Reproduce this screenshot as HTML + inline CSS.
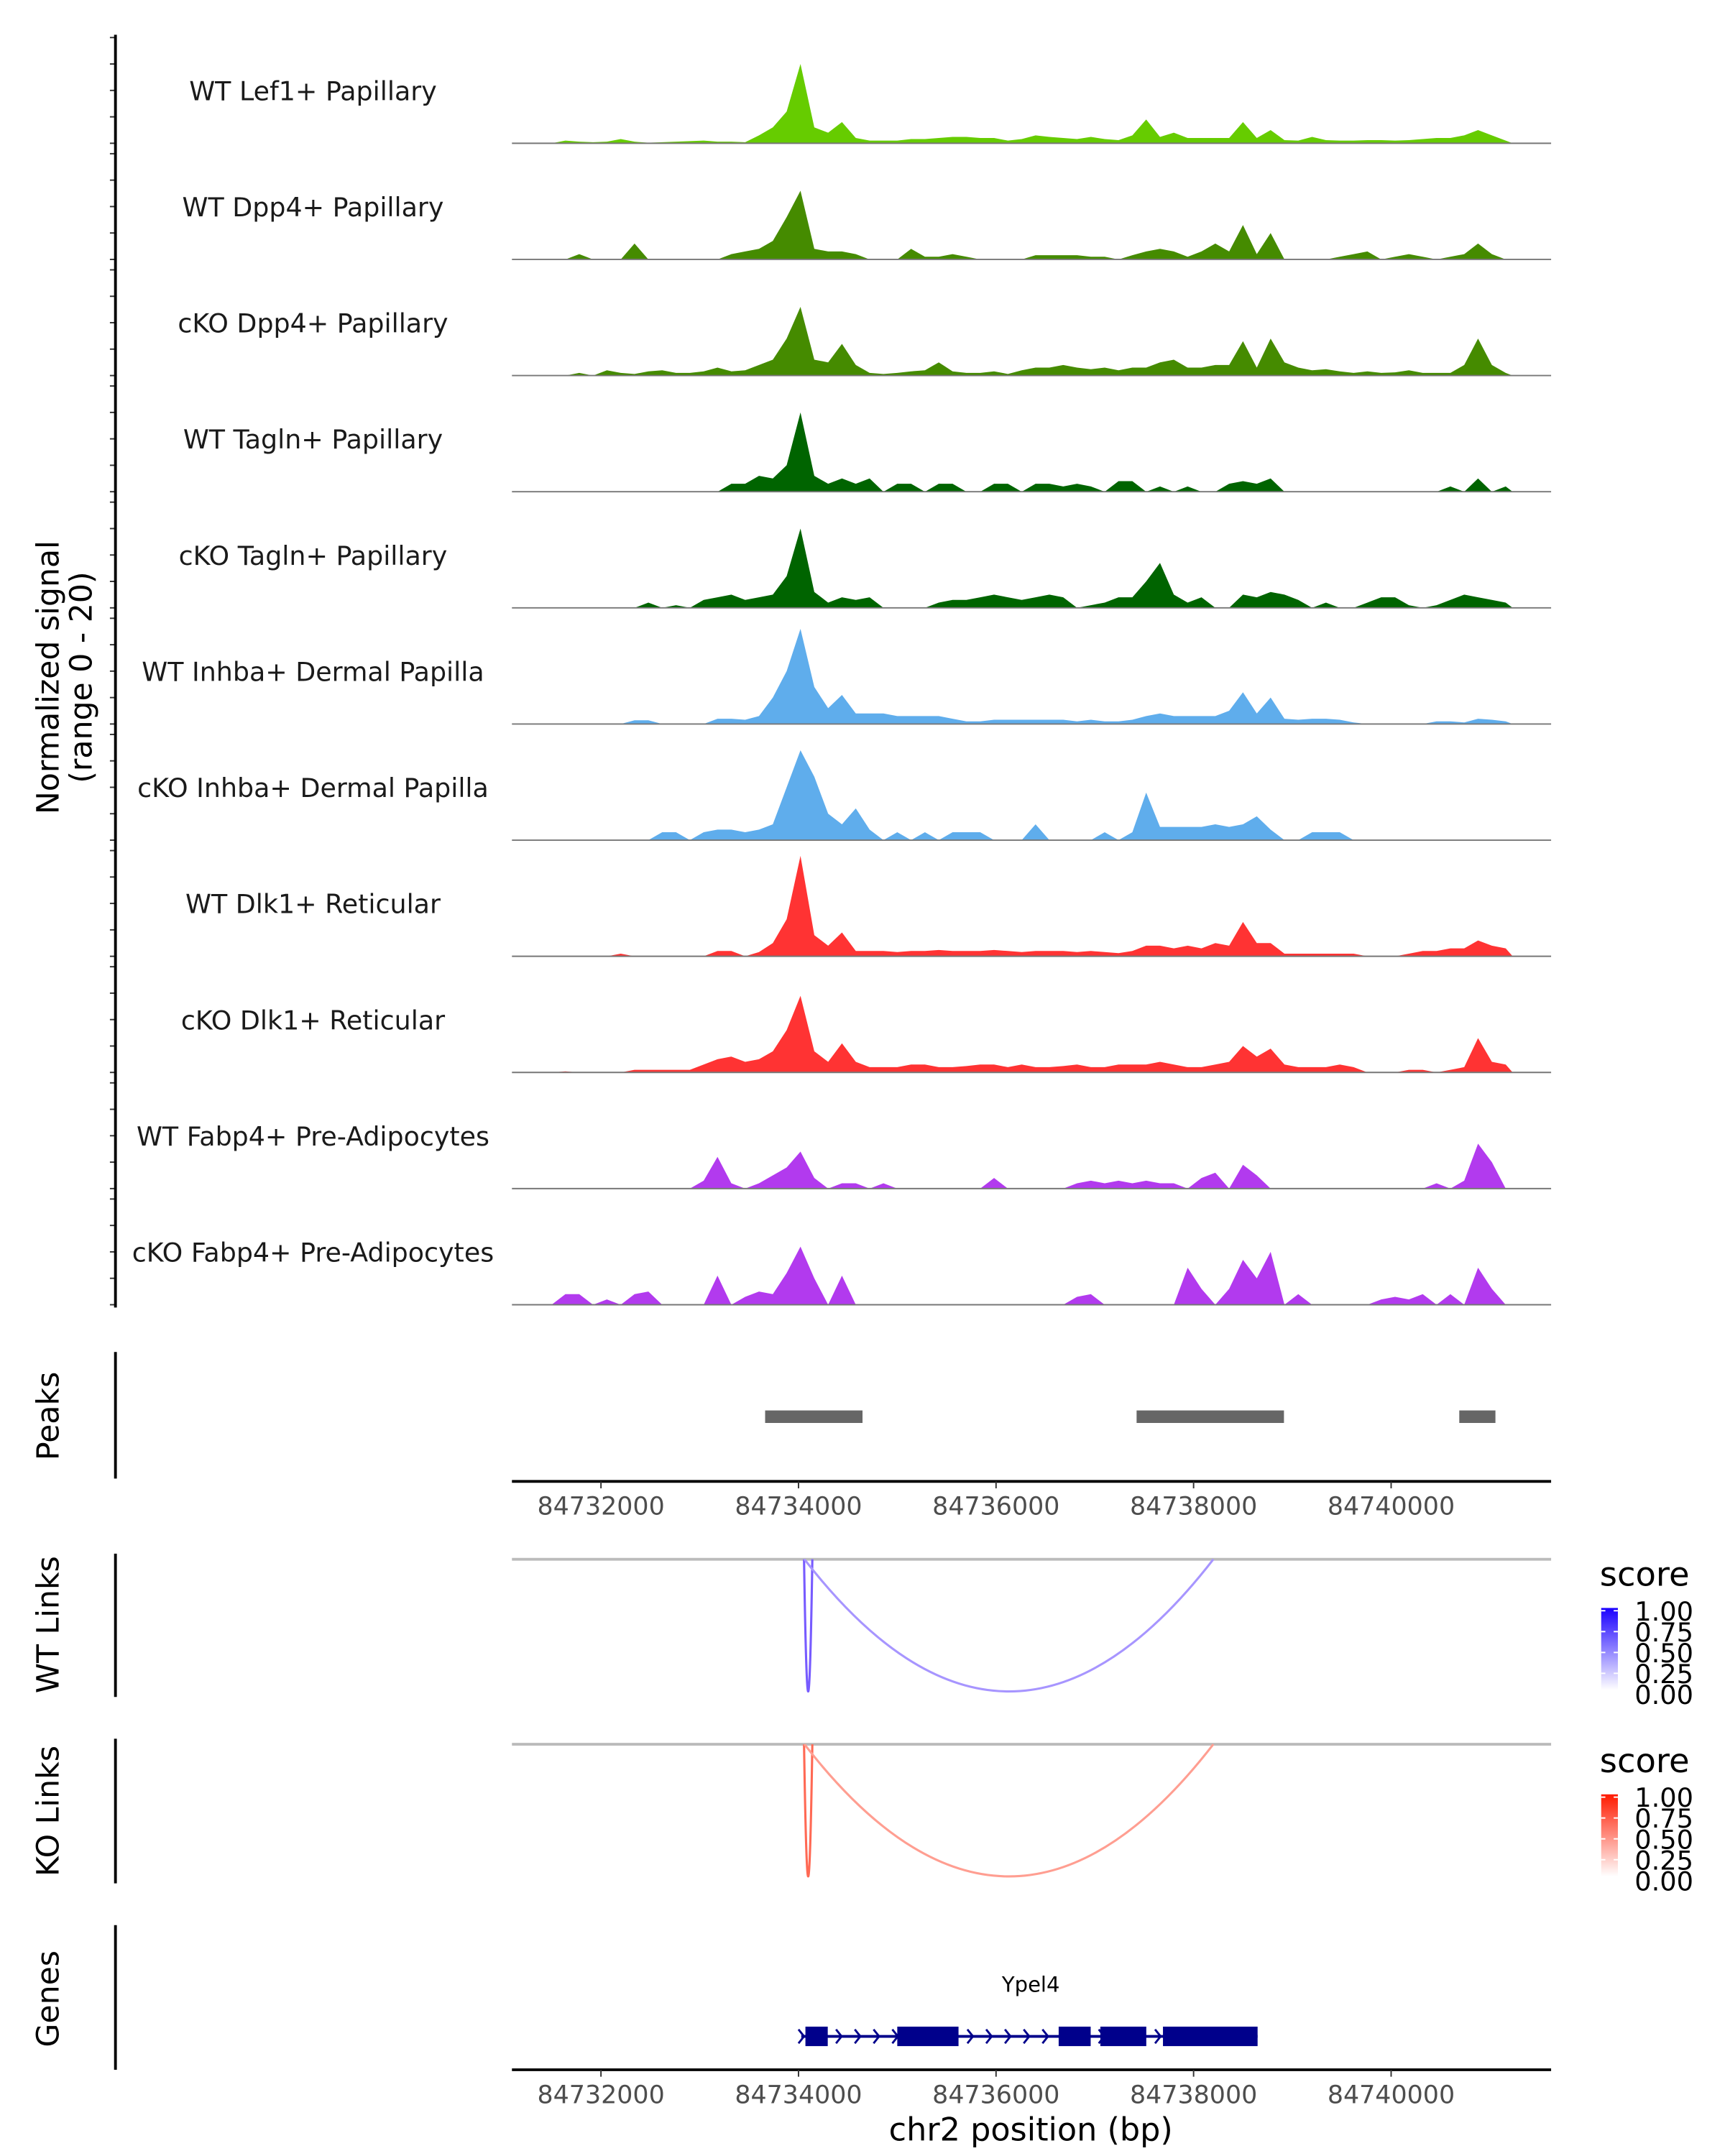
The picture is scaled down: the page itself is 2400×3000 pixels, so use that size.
<!DOCTYPE html>
<html><head><meta charset="utf-8"><style>
html,body{margin:0;padding:0;background:#fff;}
svg{display:block;}
text{font-family:"DejaVu Sans","Liberation Sans",sans-serif;}
</style></head><body>
<svg id="chart" xmlns="http://www.w3.org/2000/svg" width="2400" height="3000" viewBox="0 0 1240 1550">
<rect width="1240" height="1550" fill="#fff"/>
<g id="tracks"></g>
<g id="peaks"></g>
<g id="links"></g>
<g id="genes"></g>
<g id="axes"></g>
</svg>
<script>
const trackNames = ["WT Lef1+ Papillary","WT Dpp4+ Papillary","cKO Dpp4+ Papillary","WT Tagln+ Papillary","cKO Tagln+ Papillary","WT Inhba+ Dermal Papilla","cKO Inhba+ Dermal Papilla","WT Dlk1+ Reticular","cKO Dlk1+ Reticular","WT Fabp4+ Pre-Adipocytes","cKO Fabp4+ Pre-Adipocytes"];
const trackColors = ["#66cc00","#458b00","#458b00","#006400","#006400","#5fadec","#5fadec","#ff3333","#ff3333","#b23aee","#b23aee"];
const binStart = 84731500;
const binSize = 140;
const sigLef1WT = [0,0.5,0.3,0.2,0.3,0.8,0.3,0.1,0.2,0.3,0.4,0.5,0.3,0.3,0.2,1.5,3,6,15,3,2,4,1,0.5,0.5,0.5,0.8,0.8,1,1.2,1.2,1,1,0.5,0.8,1.5,1.2,1,0.8,1.2,0.8,0.6,1.5,4.5,1.2,2,1,1,1,1,4,1,2.5,0.6,0.5,1.2,0.6,0.5,0.5,0.6,0.6,0.5,0.6,0.8,1,1,1.5,2.5,1.5,0.5];
const sigDpp4WT = [0,0,1,0,0,0,3,0,0,0,0,0,0,1,1.5,2,3.5,8,13,2,1.5,1.5,1,0,0,0,2,0.5,0.5,1,0.5,0,0,0,0,0.8,0.8,0.8,0.8,0.5,0.5,0,0.8,1.5,2,1.5,0.5,1.5,3,1.5,6.5,1,5,0,0,0,0,0.5,1,1.5,0,0.5,1,0.5,0,0.5,1,3,1,0];
const sigDpp4KO = [0,0,0.5,0,1,0.5,0.3,0.8,1,0.5,0.5,0.8,1.5,0.8,1,2,3,7,13,3,2.5,6,2,0.5,0.3,0.5,0.8,1,2.5,0.8,0.5,0.5,0.8,0.3,1,1.5,1.5,2,1.5,1.2,1.5,1,1.5,1.5,2.5,3,1.5,1.5,2,2,6.5,1.5,7,2.5,1.5,1,1.2,0.8,0.5,0.8,0.5,0.6,1,0.5,0.5,0.5,2,7,2,0.5];
const sigTaglnWT = [0,0,0,0,0,0,0,0,0,0,0,0,0,1.5,1.5,3,2.5,5,15,3,1.5,2.5,1.5,2.5,0,1.5,1.5,0,1.5,1.5,0,0,1.5,1.5,0,1.5,1.5,1,1.5,1,0,2,2,0,1,0,1,0,0,1.5,2,1.5,2.5,0,0,0,0,0,0,0,0,0,0,0,0,1,0,2.5,0,1];
const sigTaglnKO = [0,0,0,0,0,0,0,1,0,0.5,0,1.5,2,2.5,1.5,2,2.5,6,15,3,1,2,1.5,2,0,0,0,0,1,1.5,1.5,2,2.5,2,1.5,2,2.5,2,0,0.5,1,2,2,5,8.5,2.5,1,2,0,0,2.5,2,3,2.5,1.5,0,1,0,0,1,2,2,0.5,0,0.5,1.5,2.5,2,1.5,1];
const sigInhbaWT = [0,0,0,0,0,0,0.7,0.7,0,0,0,0,1,1,0.8,1.5,5,10,18,7,3,5.5,2,2,2,1.5,1.5,1.5,1.5,1,0.5,0.5,0.8,0.8,0.8,0.8,0.8,0.8,0.5,0.8,0.5,0.5,0.8,1.5,2,1.5,1.5,1.5,1.5,2.5,6,2,5,1,0.8,1,1,0.8,0.3,0,0,0,0,0,0.5,0.5,0.3,1,0.8,0.5];
const sigInhbaKO = [0,0,0,0,0,0,0,0,1.5,1.5,0,1.5,2,2,1.5,2,3,10,17,12,5,3,6,2,0,1.5,0,1.5,0,1.5,1.5,1.5,0,0,0,3,0,0,0,0,1.5,0,1.5,9,2.5,2.5,2.5,2.5,3,2.5,3,4.5,2,0,0,1.5,1.5,1.5,0,0,0,0,0,0,0,0,0,0,0,0];
const sigDlk1WT = [0,0,0,0,0,0.5,0,0,0,0,0,0,1,1,0,0.8,2.5,7,19,4,2,4.5,1,1,1,0.8,1,1,1.2,1,1,1,1.2,1,0.8,1,1,1,0.8,1,0.8,0.6,1,2,2,1.5,2,1.5,2.5,2,6.5,2.5,2.5,0.5,0.5,0.5,0.5,0.5,0.5,0,0,0,0.5,1,1,1.5,1.5,3,2,1.5];
const sigDlk1KO = [0,0.2,0,0,0,0,0.5,0.5,0.5,0.5,0.5,1.5,2.5,3,2,2.5,4,8,14.5,4,2,5.5,2,1,1,1,1.5,1.5,1,1,1.2,1.5,1.5,1,1.5,1,1,1.2,1.5,1,1,1.5,1.5,1.5,2,1.5,1,1,1.5,2,5,3,4.5,1.5,1,1,1,1.5,1,0,0,0,0.5,0.5,0,0.5,1,6.5,2,1.5];
const sigFabp4WT = [0,0,0,0,0,0,0,0,0,0,0,1.5,6,1,0,1,2.5,4,7,2,0,1,1,0,1,0,0,0,0,0,0,0,2,0,0,0,0,0,1,1.5,1,1.5,1,1.5,1,1,0,2,3,0,4.5,2.5,0,0,0,0,0,0,0,0,0,0,0,0,1,0,1.5,8.5,5,0];
const sigFabp4KO = [0,2,2,0,1,0,2,2.5,0,0,0,0,5.5,0,1.5,2.5,2,6,11,5,0,5.5,0,0,0,0,0,0,0,0,0,0,0,0,0,0,0,0,1.5,2,0,0,0,0,0,0,7,3,0,3,8.5,5,10,0,2,0,0,0,0,0,1,1.5,1,2,0,2,0,7,3,0];
const signals = [sigLef1WT,sigDpp4WT,sigDpp4KO,sigTaglnWT,sigTaglnKO,sigInhbaWT,sigInhbaKO,sigDlk1WT,sigDlk1KO,sigFabp4WT,sigFabp4KO];
const yTicks = [0,5,10,15,20];
const peakStarts = [84733662,84737423,84740690];
const peakEnds = [84734648,84738915,84741056];
const xTicks = [84732000,84734000,84736000,84738000,84740000];
const wtLinkStart = [84734056,84734060];
const wtLinkEnd = [84734140,84738200];
const wtLinkScore = [0.7,0.45];
const koLinkStart = [84734056,84734060];
const koLinkEnd = [84734140,84738200];
const koLinkScore = [0.7,0.45];
const geneStart = 84734028, geneEnd = 84738648;
const exonStarts = [84734070,84735000,84736634,84737056,84737690];
const exonEnds = [84734296,84735620,84736958,84737521,84738648];
const legendTicks = ["1.00","0.75","0.50","0.25","0.00"];

const NS="http://www.w3.org/2000/svg";
const X0=368, X1=1115;
function xs(bp){return 716+(bp-84736000)*0.071;}
function mk(tag,attrs,parent,txt){const e=document.createElementNS(NS,tag);for(const k in attrs)e.setAttribute(k,attrs[k]);if(txt!==undefined)e.textContent=txt;parent.appendChild(e);return e;}
const G=id=>document.getElementById(id);
const tracksG=G('tracks'), axesG=G('axes');
const baseY0=103, step=83.5, vScale=3.8;
function ys(v,t){return baseY0+t*step - v*vScale;}

signals.forEach((arr,t)=>{
  const base=ys(0,t);
  const g=mk('g',{},tracksG);
  
  
  let pts=[];
  const xf=xs(binStart), xl=xs(binStart+(arr.length-1)*binSize);
  pts.push(xf-5+','+base);
  arr.forEach((v,i)=>{pts.push(xs(binStart+i*binSize).toFixed(2)+','+ys(v,t).toFixed(2));});
  pts.push((xl+5)+','+base);
  const p=mk('polygon',{points:pts.join(' '),fill:trackColors[t]},g);
  
  
  const bl=mk('line',{x1:X0,x2:X1,y1:base,y2:base,stroke:'#777','stroke-width':1},g);
  
  
  const lb=mk('text',{x:225,y:base-31,'text-anchor':'middle','font-size':18.8,fill:'#1a1a1a'},g,trackNames[t]);
  
  
  yTicks.forEach(v=>{
    const tk=mk('line',{x1:79,x2:83,y1:ys(v,t),y2:ys(v,t),stroke:'#333','stroke-width':1},axesG);
    
    
  });
});
let a=mk('line',{x1:83,x2:83,y1:25,y2:940,stroke:'#000','stroke-width':2},axesG);


function rotText(x,y,s,size,name){const e=mk('text',{x:0,y:0,transform:`translate(${x},${y}) rotate(-90)`,'text-anchor':'middle','font-size':size,fill:'#000'},axesG,s);return e;}
rotText(42,487,'Normalized signal',22,'y-axis-title');
rotText(66,487,'(range 0 - 20)',22,'y-axis-subtitle');
rotText(42,1018,'Peaks',22,'peaks-title');
rotText(42,1168,'WT Links',22,'wt-links-title');
rotText(42,1302,'KO Links',22,'ko-links-title');
rotText(42,1437,'Genes',22,'genes-title');
[[972,1063],[1117,1220],[1250,1354],[1384,1488]].forEach(r=>{
  const l=mk('line',{x1:83,x2:83,y1:r[0],y2:r[1],stroke:'#000','stroke-width':2},axesG);
  
  
});

// peaks
const peaksG=G('peaks');
peakStarts.forEach((s,i)=>{
  const r=mk('rect',{x:xs(s),y:1014,width:xs(peakEnds[i])-xs(s),height:9,fill:'#666'},peaksG);
  
  
});
function xAxis(y,name){
  const g=mk('g',{},axesG);
  
  
  mk('line',{x1:X0,x2:X1,y1:y,y2:y,stroke:'#000','stroke-width':2},g);
  xTicks.forEach(v=>{
    mk('line',{x1:xs(v),x2:xs(v),y1:y,y2:y+5,stroke:'#333','stroke-width':1},g);
    const t=mk('text',{x:xs(v),y:y+24,'text-anchor':'middle','font-size':18,fill:'#4d4d4d'},g,String(v));
    
    
  });
}
xAxis(1065,'peaks-x-axis');
xAxis(1488,'genes-x-axis');
let xt=mk('text',{x:741,y:1539,'text-anchor':'middle','font-size':23,fill:'#000'},axesG,'chr2 position (bp)');



// links
const linksG=G('links');
function blend(c,s){return 'rgb('+c.map(v=>Math.round(255+(v-255)*s)).join(',')+')';}
function drawLinks(y0,starts,ends,scores,col,name){
  const g=mk('g',{},linksG);
  
  
  mk('line',{x1:X0,x2:X1,y1:y0,y2:y0,stroke:'#bbb','stroke-width':2},g);
  starts.forEach((s,i)=>{
    const x1=xs(s),x2=xs(ends[i]),d=95*2,xm=(x1+x2)/2;
    const p=mk('path',{d:`M${x1},${y0} Q${xm},${y0+d} ${x2},${y0}`,fill:'none',stroke:blend(col,scores[i]),'stroke-width':1.6},g);
    
    
  });
}
drawLinks(1121,wtLinkStart,wtLinkEnd,wtLinkScore,[60,20,255],'wt-links');
drawLinks(1254,koLinkStart,koLinkEnd,koLinkScore,[255,40,10],'ko-links');

// legends
function legend(y,col,id,name){
  const g=mk('g',{},axesG);
  
  
  const defs=mk('defs',{},g);
  const lg=mk('linearGradient',{id:id,x1:0,y1:0,x2:0,y2:1},defs);
  mk('stop',{offset:0,'stop-color':col},lg);
  mk('stop',{offset:1,'stop-color':'#fff'},lg);
  mk('text',{x:1150,y:y,'font-size':24,fill:'#000'},g,'score');
  mk('rect',{x:1151,y:y+16,width:12,height:59,fill:`url(#${id})`},g);
  legendTicks.forEach((l,i)=>{
    const ty=y+18+i*15;
    mk('line',{x1:1151,x2:1154,y1:ty,y2:ty,stroke:'#fff'},g);
    mk('line',{x1:1160,x2:1163,y1:ty,y2:ty,stroke:'#fff'},g);
    const t=mk('text',{x:1175,y:ty+7,'font-size':19,fill:'#000'},g,l);
    
    
  });
}
legend(1140,'#1a00ff','gb','wt-score-legend');
legend(1274,'#ff1a00','gr','ko-score-legend');

// genes
const genesG=G('genes');
const gy=1464;
let gl=mk('line',{x1:xs(geneStart),x2:xs(geneEnd),y1:gy,y2:gy,stroke:'#00008b','stroke-width':2},genesG);


for(let bp=geneStart; bp<geneEnd; bp+=190){
  const x=xs(bp);
  mk('path',{d:`M${x-2},${gy-5} L${x+2},${gy} L${x-2},${gy+5}`,fill:'none',stroke:'#00008b','stroke-width':1.5},genesG);
}
exonStarts.forEach((s,i)=>{
  const r=mk('rect',{x:xs(s),y:gy-7,width:xs(exonEnds[i])-xs(s),height:14,fill:'#00008b'},genesG);
  
  
});
let gn=mk('text',{x:741,y:1432,'text-anchor':'middle','font-size':15,fill:'#000'},genesG,'Ypel4');


</script>
</body></html>
